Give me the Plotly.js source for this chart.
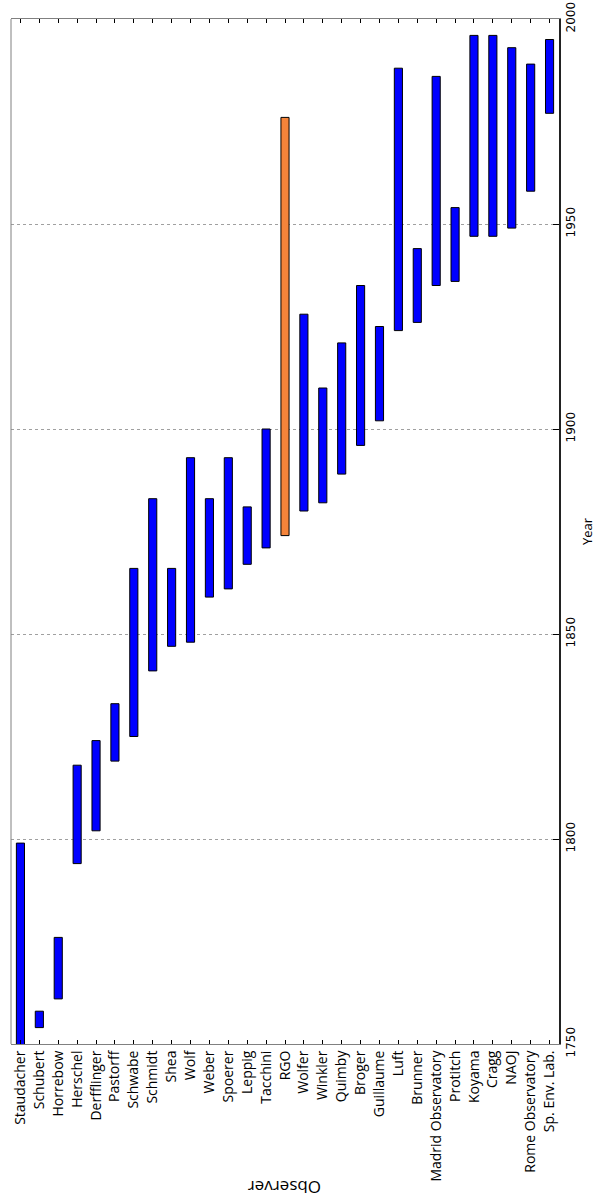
<!DOCTYPE html>
<html>
<head>
<meta charset="utf-8">
<script src="https://cdn.plot.ly/plotly-3.0.1.min.js"></script>
<style>
  html, body { margin: 0; padding: 0; background: #ffffff; }
  #chart { width: 599px; height: 1199px; }
</style>
</head>
<body>
<div id="chart"></div>
<script>
// observers and their observing periods (years)
const observers = [
    'Staudacher', 'Schubert', 'Horrebow', 'Herschel', 'Derfflinger', 'Pastorff',
    'Schwabe', 'Schmidt', 'Shea', 'Wolf', 'Weber', 'Spoerer', 'Leppig', 'Tacchini',
    'RGO', 'Wolfer', 'Winkler', 'Quimby', 'Broger', 'Guillaume', 'Luft', 'Brunner',
    'Madrid Observatory', 'Protitch', 'Koyama', 'Cragg', 'NAOJ', 'Rome Observatory',
    'Sp. Env. Lab.'
];
const startYears = [
    1749, 1754, 1761, 1794, 1802, 1819,
    1825, 1841, 1847, 1848, 1859, 1861, 1867, 1871,
    1874, 1880, 1882, 1889, 1896, 1902, 1924, 1926,
    1935, 1936, 1947, 1947, 1949, 1958,
    1977
];
const endYears = [
    1799, 1758, 1776, 1818, 1824, 1833,
    1866, 1883, 1866, 1893, 1883, 1893, 1881, 1900,
    1976, 1928, 1910, 1921, 1935, 1925, 1988, 1944,
    1986, 1954, 1996, 1996, 1993, 1989,
    1995
];
const highlighted = 'RGO';
const yearTicks = [1750, 1800, 1850, 1900, 1950, 2000];

const textFont = 'Open Sans, sans-serif';
const numFont = 'DejaVu Sans, sans-serif';

const data = [{
    type: 'bar',
    x: observers,
    base: startYears,
    y: endYears.map((e, i) => e - startYears[i]),
    width: 0.43,
    marker: {
        color: observers.map(o => o === highlighted ? '#f5843a' : '#0000ff'),
        line: { color: '#000000', width: 1 }
    },
    hoverinfo: 'x'
}];

const layout = {
    width: 599,
    height: 1199,
    margin: { l: 11, r: 40, t: 19, b: 155 },
    paper_bgcolor: '#ffffff',
    plot_bgcolor: '#ffffff',
    showlegend: false,
    font: { family: textFont, size: 14, color: '#000000' },
    xaxis: {
        type: 'category',
        range: [-0.5, observers.length - 0.5],
        tickangle: -90,
        ticks: 'inside',
        ticklen: 4,
        tickcolor: '#000000',
        showline: true,
        linecolor: '#808080',
        linewidth: 1,
        mirror: 'ticks',
        showgrid: false,
        zeroline: false,
        tickfont: { family: textFont, size: 14, color: '#000000' }
    },
    yaxis: {
        side: 'right',
        range: [1750, 2000],
        tickvals: yearTicks,
        tickangle: -90,
        ticks: 'inside',
        ticklen: 6,
        tickcolor: '#000000',
        showline: true,
        linecolor: '#222222',
        linewidth: 1.5,
        showgrid: true,
        gridcolor: '#a0a0a0',
        griddash: 'dot',
        gridwidth: 1,
        zeroline: false,
        tickfont: { family: numFont, size: 12, color: '#000000' },
        title: {
            text: 'Year',
            standoff: 6,
            font: { family: textFont, size: 13, color: '#000000' }
        }
    },
    shapes: [{
        type: 'line', xref: 'paper', yref: 'paper',
        x0: 0, x1: 0, y0: 0, y1: 1,
        line: { color: '#808080', width: 1 }
    }],
    annotations: [{
        text: 'Observer',
        xref: 'paper', yref: 'paper',
        x: 0.5, y: -0.1405,
        xanchor: 'center', yanchor: 'middle',
        textangle: 180,
        showarrow: false,
        font: { family: textFont, size: 17, color: '#000000' }
    }]
};

Plotly.newPlot('chart', data, layout, { displayModeBar: false, staticPlot: true });
</script>
</body>
</html>
